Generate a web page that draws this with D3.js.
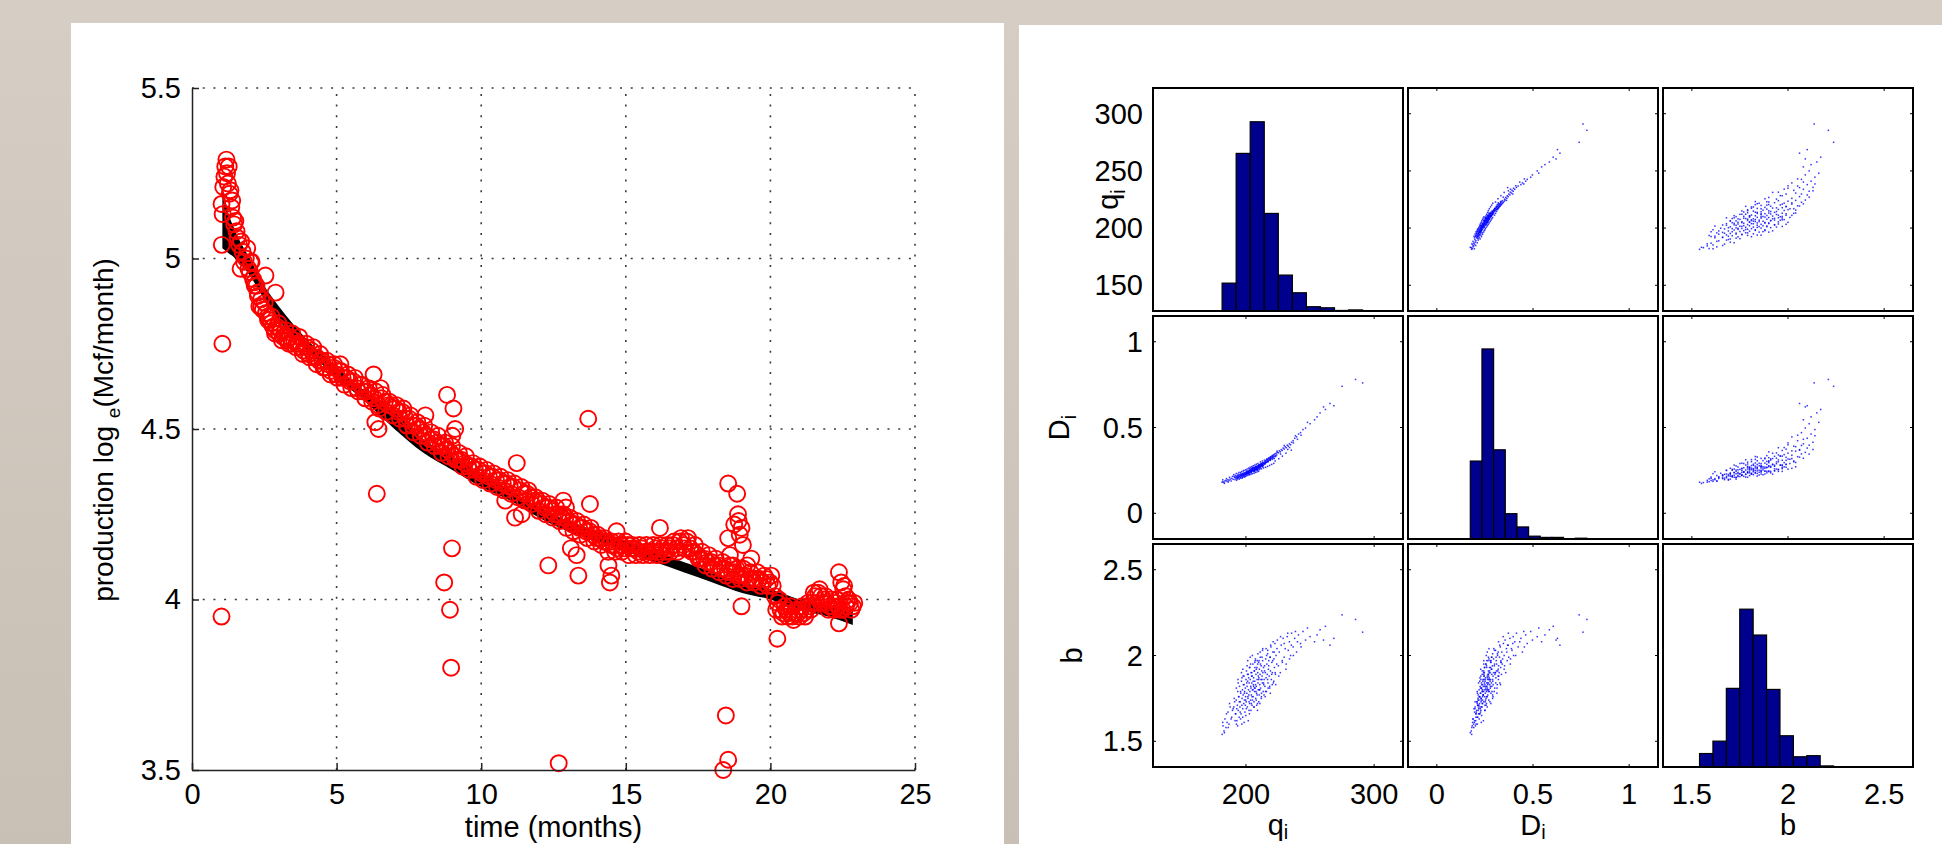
<!DOCTYPE html>
<html>
<head>
<meta charset="utf-8">
<script src="https://cdn.jsdelivr.net/npm/d3@7"></script>
<style>
  html, body { margin: 0; padding: 0; }
  body { width: 1942px; height: 844px; overflow: hidden; background: linear-gradient(#d6cdc4, #c8bfb5); }
  text { font-family: "Liberation Sans", Arial, sans-serif; fill: #000; }
</style>
</head>
<body>
<svg id="chart" width="1942" height="844"></svg>
<script>
// ---------- data ----------

// left plot: observed monthly production (time in months, log_e of Mcf/month)
const observed = [
  [1.02,5.16],[1.03,5.04],[1.05,4.75],[1.02,3.95],[1.06,5.13],[1.08,5.21],[1.12,5.24],[1.15,5.27],[1.19,5.29],[1.21,5.25],
  [1.24,5.22],[1.27,5.27],[1.30,5.19],[1.33,5.20],[1.36,5.15],[1.39,5.17],[1.42,5.12],[1.46,5.10],[1.50,5.11],[1.54,5.08],
  [1.58,5.06],[1.63,5.04],[1.68,4.97],[1.70,5.05],[1.75,5.02],[1.80,4.99],[1.86,5.00],[1.91,5.03],[1.95,4.97],[2.00,4.96],
  [2.06,4.99],[2.11,4.94],[2.17,4.92],[2.23,4.92],[2.28,4.89],[2.33,4.86],[2.39,4.88],[2.45,4.85],[2.54,4.95],[2.56,4.84],
  [2.62,4.83],[2.68,4.82],[2.74,4.81],[2.80,4.80],[2.89,4.90],[2.87,4.79],[2.94,4.80],[3.01,4.78],[3.08,4.79],[3.15,4.77],
  [3.22,4.77],[3.29,4.76],[3.37,4.77],[3.45,4.75],[3.53,4.76],[3.61,4.75],[3.69,4.75],[3.77,4.74],[3.86,4.73],[3.95,4.74],
  [4.04,4.72],[4.13,4.73],[4.22,4.71],[4.31,4.71],[4.40,4.70],[4.50,4.70],[4.60,4.68],[4.70,4.69],[4.80,4.67],[4.90,4.68],
  [5.00,4.66],[5.13,4.69],[5.10,4.67],[5.21,4.65],[5.33,4.65],[5.45,4.64],[5.57,4.64],[5.69,4.62],[5.81,4.63],[5.93,4.61],
  [6.05,4.61],[6.17,4.60],[6.28,4.66],[6.30,4.59],[6.39,4.31],[6.43,4.57],[6.45,4.50],[6.34,4.52],[6.52,4.62],[6.55,4.59],
  [6.67,4.58],[6.79,4.57],[6.91,4.57],[7.03,4.56],[7.15,4.55],[7.27,4.55],[7.39,4.53],[7.51,4.53],[7.63,4.51],[7.75,4.51],
  [7.87,4.50],[7.99,4.49],[8.07,4.54],[8.11,4.48],[8.23,4.47],[8.35,4.47],[8.47,4.46],[8.59,4.45],[8.71,4.45],[8.72,4.05],
  [8.82,4.60],[8.83,4.44],[8.92,3.97],[8.96,3.80],[8.99,4.15],[8.95,4.43],[9.00,4.48],[9.04,4.56],[9.10,4.50],[9.07,4.42],
  [9.19,4.41],[9.31,4.41],[9.43,4.40],[9.55,4.39],[9.67,4.39],[9.79,4.38],[9.91,4.38],[10.03,4.37],[10.15,4.37],[10.27,4.36],
  [10.39,4.36],[10.51,4.35],[10.63,4.35],[10.75,4.34],[10.83,4.29],[10.87,4.34],[10.99,4.33],[11.11,4.33],[11.17,4.24],[11.23,4.40],
  [11.35,4.32],[11.40,4.25],[11.47,4.31],[11.59,4.31],[11.71,4.30],[11.83,4.29],[11.95,4.29],[12.07,4.28],[12.19,4.27],[12.31,4.27],
  [12.32,4.10],[12.43,4.26],[12.55,4.25],[12.67,4.25],[12.68,3.52],[12.79,4.24],[12.84,4.29],[12.91,4.24],[12.93,4.27],[13.03,4.23],
  [13.10,4.15],[13.15,4.22],[13.27,4.22],[13.30,4.13],[13.36,4.07],[13.39,4.21],[13.51,4.21],[13.63,4.20],[13.70,4.53],[13.75,4.20],
  [13.76,4.28],[13.87,4.19],[13.99,4.18],[14.11,4.18],[14.23,4.17],[14.35,4.17],[14.40,4.10],[14.45,4.05],[14.47,4.16],[14.50,4.07],
  [14.59,4.16],[14.68,4.20],[14.71,4.15],[14.83,4.16],[14.95,4.15],[15.07,4.16],[15.19,4.15],[15.31,4.15],[15.43,4.14],[15.55,4.15],
  [15.67,4.14],[15.79,4.14],[15.91,4.14],[16.03,4.15],[16.15,4.14],[16.18,4.21],[16.27,4.15],[16.39,4.14],[16.51,4.15],[16.63,4.16],
  [16.75,4.15],[16.87,4.17],[16.99,4.16],[17.11,4.17],[17.23,4.15],[17.35,4.14],[17.47,4.13],[17.59,4.12],[17.71,4.12],[17.83,4.11],
  [17.95,4.11],[18.07,4.10],[18.19,4.10],[18.31,4.09],[18.37,3.50],[18.43,4.09],[18.46,3.66],[18.54,3.53],[18.54,4.34],[18.54,4.18],
  [18.55,4.08],[18.60,4.13],[18.67,4.08],[18.70,4.10],[18.75,4.22],[18.79,4.08],[18.85,4.31],[18.88,4.25],[18.90,4.23],[18.91,4.07],
  [18.94,4.19],[19.00,4.21],[19.00,3.98],[19.02,4.07],[19.05,4.16],[19.14,4.07],[19.20,4.10],[19.26,4.06],[19.34,4.12],[19.38,4.06],
  [19.50,4.06],[19.62,4.06],[19.74,4.05],[19.86,4.06],[19.98,4.05],[20.08,4.04],[20.15,4.01],[20.24,3.885],[20.25,3.99],[20.35,3.97],
  [20.45,3.96],[20.55,3.97],[20.65,3.96],[20.75,3.95],[20.85,3.96],[20.95,3.96],[21.05,3.97],[21.15,3.96],[21.25,3.97],[21.35,3.98],
  [21.45,3.99],[21.55,4.01],[21.65,4.02],[21.75,4.01],[21.85,4.00],[21.95,3.99],[22.05,3.98],[22.15,3.98],[22.25,3.99],[22.35,3.98],
  [22.37,4.08],[22.37,3.93],[22.45,4.05],[22.50,3.97],[22.52,4.03],[22.55,4.04],[22.60,4.01],[22.65,3.99],[22.75,3.99],[22.85,3.98],
  // in-between days that thicken the band
  [2.03,4.99],[2.15,4.93],[2.27,4.90],[2.39,4.86],[2.51,4.87],[2.63,4.82],[2.75,4.83],[2.87,4.78],[2.99,4.81],[3.11,4.76],
  [3.23,4.79],[3.35,4.75],[3.47,4.78],[3.59,4.74],[3.71,4.77],[3.83,4.72],[3.95,4.75],[4.07,4.71],[4.19,4.74],[4.31,4.69],
  [4.43,4.72],[4.55,4.68],[4.67,4.70],[4.79,4.66],[4.91,4.69],[5.03,4.65],[5.15,4.67],[5.27,4.63],[5.39,4.66],[5.51,4.62],
  [5.63,4.65],[5.75,4.61],[5.87,4.63],[5.99,4.59],[6.11,4.62],[6.23,4.58],[6.35,4.61],[6.47,4.56],[6.59,4.60],[6.71,4.55],
  [6.83,4.58],[6.95,4.54],[7.07,4.57],[7.19,4.53],[7.31,4.56],[7.43,4.51],[7.55,4.54],[7.67,4.49],[7.79,4.52],[7.91,4.48],
  [8.03,4.51],[8.15,4.46],[8.27,4.49],[8.39,4.45],[8.51,4.48],[8.63,4.43],[8.75,4.46],[8.87,4.42],[8.99,4.45],[9.11,4.41],
  [9.23,4.43],[9.35,4.39],[9.47,4.42],[9.59,4.38],[9.71,4.40],[9.83,4.36],[9.95,4.39],[10.07,4.35],[10.19,4.38],[10.31,4.34],
  [10.43,4.37],[10.55,4.33],[10.67,4.36],[10.79,4.32],[10.91,4.35],[11.03,4.31],[11.15,4.34],[11.27,4.30],[11.39,4.33],[11.51,4.29],
  [11.63,4.32],[11.75,4.28],[11.87,4.30],[11.99,4.26],[12.11,4.29],[12.23,4.25],[12.35,4.28],[12.47,4.24],[12.59,4.27],[12.71,4.23],
  [12.83,4.25],[12.95,4.21],[13.07,4.24],[13.19,4.20],[13.31,4.23],[13.43,4.19],[13.55,4.22],[13.67,4.18],[13.79,4.21],[13.91,4.17],
  [14.03,4.19],[14.15,4.16],[14.27,4.18],[14.39,4.14],[14.51,4.17],[14.63,4.14],[14.75,4.17],[14.87,4.14],[14.99,4.17],[15.11,4.13],
  [15.23,4.16],[15.35,4.13],[15.47,4.16],[15.59,4.13],[15.71,4.16],[15.83,4.13],[15.95,4.16],[16.07,4.13],[16.19,4.16],[16.31,4.13],
  [16.43,4.16],[16.55,4.14],[16.67,4.17],[16.79,4.14],[16.91,4.18],[17.03,4.15],[17.15,4.18],[17.27,4.14],[17.39,4.16],[17.51,4.12],
  [17.63,4.14],[17.75,4.10],[17.87,4.13],[17.99,4.09],[18.11,4.12],[18.23,4.08],[18.35,4.11],[18.47,4.07],[18.59,4.10],[18.71,4.06],
  [18.83,4.09],[18.95,4.06],[19.07,4.09],[19.19,4.05],[19.31,4.08],[19.43,4.05],[19.55,4.08],[19.67,4.04],[19.79,4.07],[19.91,4.04],
  [20.03,4.07],[20.20,3.97],[20.30,4.00],[20.40,3.95],[20.50,3.98],[20.60,3.95],[20.70,3.98],[20.80,3.94],[20.90,3.97],[21.00,3.95],
  [21.10,3.98],[21.20,3.95],[21.30,3.99],[21.40,3.97],[21.50,4.02],[21.60,3.99],[21.70,4.03],[21.80,3.99],[21.90,4.01],[22.00,3.97],
  [22.10,4.00],[22.20,3.97],[22.30,4.00],[22.40,3.97],[22.60,3.98],[22.70,4.00],[22.80,3.97],[22.90,3.99]
]

// left plot: envelope of the fitted decline curves (black band)
const fitMonths = [1.05, 1.2, 1.5, 2.0, 2.5, 3, 4, 5, 6, 7, 8, 9, 10, 11, 12, 13, 14, 15, 16, 17, 18, 19, 20, 21, 22, 22.85]
const fitLow    = [5.03, 5.02, 5.00, 4.95, 4.88, 4.82, 4.73, 4.65, 4.58, 4.50, 4.43, 4.38, 4.33, 4.29, 4.24, 4.20, 4.17, 4.14, 4.11, 4.08, 4.05, 4.02, 4.00, 3.97, 3.95, 3.925]
const fitHigh   = [5.21, 5.15, 5.08, 5.00, 4.92, 4.86, 4.76, 4.68, 4.61, 4.55, 4.47, 4.42, 4.37, 4.32, 4.27, 4.23, 4.20, 4.17, 4.14, 4.11, 4.08, 4.05, 4.03, 4.00, 3.98, 3.965]

const timeTicks = [0, 5, 10, 15, 20, 25]
const prodTicks = [3.5, 4, 4.5, 5, 5.5]

// right plot: posterior samples [q_i, D_i, b]
const samples = [
  [181.4,.181,1.54],[182.1,.184,1.59],[182.9,.179,1.56],[183.6,.188,1.63],[184.4,.192,1.58],[185.3,.186,1.61],[186.0,.196,1.67],[186.8,.191,1.60],[187.7,.199,1.70],[188.9,.203,1.64],[190.0,.198,1.69],[191.2,.209,1.73],
  [192.0,.206,1.66],[192.4,.214,1.74],[192.9,.202,1.62],[193.3,.219,1.71],[193.6,.210,1.79],[194.0,.207,1.68],[194.3,.221,1.76],[194.7,.213,1.64],[195.0,.225,1.82],[195.3,.216,1.70],
  [195.6,.209,1.73],[195.9,.228,1.78],[196.2,.218,1.66],[196.5,.223,1.85],[196.8,.212,1.71],[197.0,.231,1.75],[197.3,.220,1.80],[197.5,.226,1.69],[197.8,.215,1.77],[198.0,.234,1.83],
  [198.3,.222,1.72],[198.5,.229,1.88],[198.8,.219,1.74],[199.0,.237,1.79],[199.2,.227,1.67],[199.5,.232,1.81],[199.7,.224,1.76],[200.0,.240,1.86],[200.2,.230,1.73],[200.4,.236,1.91],
  [200.7,.226,1.78],[200.9,.242,1.82],[201.1,.233,1.70],[201.3,.239,1.85],[201.6,.229,1.75],[201.8,.245,1.89],[202.0,.236,1.80],[202.2,.241,1.77],[202.5,.232,1.84],[202.7,.248,1.93],
  [202.9,.238,1.72],[192.6,.211,1.60],[193.9,.217,1.84],[195.8,.220,1.63],[197.6,.228,1.92],[199.9,.233,1.65],[201.4,.244,1.97],[202.4,.229,1.68],[196.9,.224,1.87],[198.6,.231,1.61],
  [203.1,.243,1.79],[203.3,.251,1.86],[203.6,.238,1.74],[203.8,.256,1.82],[204.0,.247,1.90],[204.2,.241,1.77],[204.5,.259,1.84],[204.7,.250,1.71],[204.9,.262,1.88],[205.1,.246,1.80],
  [205.4,.255,1.95],[205.6,.249,1.76],[205.8,.265,1.83],[206.0,.253,1.87],[206.3,.244,1.73],[206.5,.268,1.91],[206.7,.258,1.79],[206.9,.251,1.85],[207.2,.263,1.81],[207.4,.271,1.98],
  [207.6,.256,1.75],[207.8,.266,1.89],[208.1,.260,1.82],[208.3,.252,1.78],[208.5,.274,1.93],[208.7,.264,1.86],[209.0,.258,1.72],[209.2,.277,1.90],[209.4,.269,1.84],[209.6,.261,1.80],
  [209.9,.280,1.96],[210.1,.272,1.87],[210.3,.265,1.77],[210.5,.283,1.92],[210.8,.275,1.83],[211.0,.268,1.89],[211.2,.286,1.99],[211.4,.278,1.81],[211.7,.271,1.86],[211.9,.289,1.94],
  [212.1,.281,1.78],[212.3,.274,1.91],[212.6,.292,1.88],[212.8,.284,1.84],[213.0,.277,1.97],[213.2,.295,1.90],[213.5,.287,1.79],[213.7,.280,1.93],[203.9,.249,1.68],[205.0,.257,2.00],
  [206.2,.262,1.70],[207.0,.248,1.93],[208.0,.270,1.74],[209.1,.255,1.95],[210.0,.276,1.73],[211.1,.262,2.02],[212.0,.290,1.75],[213.1,.271,2.04],[204.4,.245,1.88],[206.6,.254,1.81],
  [208.8,.266,1.97],[210.7,.270,1.80],[212.5,.279,1.86],[213.9,.293,1.83],
  [214.2,.290,1.86],[214.5,.299,1.94],[214.8,.286,1.82],[215.1,.303,1.90],[215.4,.295,1.98],[215.7,.307,1.87],[216.0,.298,1.79],[216.3,.311,1.95],[216.6,.302,1.89],[216.9,.315,2.01],
  [217.2,.306,1.84],[217.5,.319,1.92],[217.8,.309,1.97],[218.1,.322,1.88],[218.5,.313,1.81],[218.8,.326,1.99],[219.1,.317,1.91],[219.5,.330,2.05],[219.8,.320,1.86],[220.2,.334,1.96],
  [220.6,.324,1.90],[221.0,.338,2.02],[221.4,.328,1.84],[221.8,.342,1.98],[222.2,.332,1.93],[222.6,.346,2.07],[223.0,.336,1.89],[223.5,.350,2.00],[224.0,.340,1.95],[224.5,.355,2.09],
  [215.0,.292,1.76],[217.0,.300,2.03],[219.0,.312,1.78],[221.2,.321,2.08],[223.2,.331,1.83],
  [225.3,.352,1.94],[226.0,.364,2.02],[226.8,.358,1.90],[227.5,.371,2.06],[228.3,.366,1.97],[229.0,.380,2.10],[229.8,.374,1.99],[230.6,.388,2.04],[231.4,.382,1.95],[232.2,.397,2.11],
  [233.0,.391,2.03],[233.9,.405,2.08],[234.8,.399,2.00],[235.6,.414,2.13],
  [236.8,.423,2.05],[238.0,.437,2.10],[239.5,.445,2.02],[241.0,.462,2.12],[242.6,.470,2.07],[244.5,.488,2.14],[246.5,.497,2.09],
  [250.0,.522,2.11],[253.5,.545,2.08],[257.8,.585,2.15],[262.0,.605,2.17],[268.6,.627,2.10],[265.5,.640,2.06],
  [275.0,.740,2.237],[285.5,.780,2.21],[291.0,.760,2.136],
  // wider spread around the core
  [190.5,.225,1.70],[191.5,.196,1.62],[192.5,.232,1.81],[193.5,.201,1.59],[194.5,.238,1.76],[195.5,.205,1.67],[196.5,.243,1.90],[197.5,.209,1.64],[198.5,.250,1.83],[199.5,.214,1.71],
  [190.8,.214,1.75],[191.8,.221,1.66],[192.8,.193,1.69],[193.8,.229,1.86],[194.8,.199,1.73],[195.8,.236,1.79],[196.8,.204,1.60],[197.8,.246,1.88],[198.8,.211,1.78],[199.8,.253,1.74],
  [200.3,.218,1.69],[200.9,.258,1.94],[201.5,.221,1.76],[202.1,.263,1.87],[202.7,.224,1.66],[203.3,.268,1.99],[203.9,.227,1.81],[204.5,.272,1.90],[205.1,.231,1.74],[205.7,.277,1.85],
  [206.3,.234,1.70],[206.9,.281,1.96],[207.5,.238,1.83],[208.1,.286,1.92],[208.7,.241,1.77],[209.3,.290,2.01],[209.9,.245,1.86],[200.6,.247,1.84],[201.8,.242,1.62],[203.0,.259,1.93],
  [204.2,.236,1.72],[205.4,.266,1.80],[206.6,.244,1.91],[207.8,.273,1.79],[209.0,.251,1.68],[210.2,.282,1.97],[201.2,.236,1.89],[202.4,.252,1.73],[203.6,.244,1.95],[204.8,.262,1.76],
  [206.0,.249,1.82],[207.2,.260,1.97],[208.4,.256,1.71],[209.6,.269,1.88],
  [210.5,.255,1.80],[211.3,.300,1.95],[212.1,.259,1.76],[212.9,.305,2.03],[213.7,.264,1.84],[214.5,.310,1.91],[215.3,.268,1.79],[216.1,.316,2.00],[216.9,.273,1.86],[217.7,.321,1.94],
  [218.5,.279,1.82],[219.3,.327,2.06],[220.1,.285,1.89],[220.9,.333,1.97],[221.7,.291,1.85],[210.9,.281,1.72],[212.5,.284,1.99],[214.1,.290,1.77],[215.7,.296,2.04],[217.3,.301,1.81],
  [218.9,.308,1.99],[220.5,.314,1.83],[222.1,.319,2.02],
  [222.8,.305,1.90],[224.2,.362,2.04],[225.6,.318,1.88],[227.0,.345,2.11],[228.4,.333,1.96],[229.8,.395,2.07],[231.2,.350,1.92],[232.6,.372,2.13],[234.0,.383,1.98],[235.4,.368,2.06],
  [237.0,.410,2.00],[238.6,.452,2.14],[240.2,.431,2.08],[243.0,.455,2.05],[248.0,.530,2.16],[255.5,.562,2.12],[260.5,.620,2.09],
  [181.9,.195,1.61],[183.2,.174,1.55],[184.8,.202,1.66],[186.2,.182,1.58],[187.2,.210,1.72],[188.4,.188,1.63],[189.5,.215,1.68]
]

// histogram bar counts (10 bins each, per 1000 draws) and top of the hidden count axis
const qiCounts = [52, 294, 353, 182, 67, 34, 8, 6, 1, 2]
const diCounts = [194, 473, 222, 63, 30, 7, 4, 4, 0, 2]
const bCounts  = [25, 48, 146, 293, 245, 144, 58, 19, 21, 2]
const histTops = [416, 555, 414]

// axis limits and ticks of the scatter matrix
const qiLimits = [127.5, 322.5], diLimits = [-0.15, 1.15], bLimits = [1.35, 2.65]
const qiTicksX = [200, 300], qiTicksY = [150, 200, 250, 300]
const diTicks = [0, 0.5, 1]
const bTicks = [1.5, 2, 2.5]

// ---------- drawing ----------
const W = 1942, H = 844
const FONT = 29
const svg = d3.select('#chart')

// white panels on the beige slide
svg.append('rect').attr('x', 71).attr('y', 23).attr('width', 933).attr('height', H - 23).attr('fill', '#fff')
svg.append('rect').attr('x', 1019).attr('y', 25).attr('width', W - 1019).attr('height', H - 25).attr('fill', '#fff')

// ---------- left: production decline ----------
const plot = { left: 192, right: 915, top: 88, bottom: 770 }
const x = d3.scaleLinear().domain([0, 25]).range([plot.left, plot.right])
const y = d3.scaleLinear().domain([3.5, 5.5]).range([plot.bottom, plot.top])

const leftG = svg.append('g')

// dotted grid
leftG.selectAll('.vgrid').data(timeTicks.slice(1)).enter().append('line')
  .attr('x1', d => x(d)).attr('x2', d => x(d))
  .attr('y1', plot.bottom).attr('y2', plot.top)
  .attr('stroke', '#3a3a3a').attr('stroke-width', 1.6).attr('stroke-dasharray', '2,8.7')
leftG.selectAll('.hgrid').data(prodTicks.slice(1)).enter().append('line')
  .attr('x1', plot.left).attr('x2', plot.right)
  .attr('y1', d => y(d)).attr('y2', d => y(d))
  .attr('stroke', '#3a3a3a').attr('stroke-width', 1.6).attr('stroke-dasharray', '2,8.7')

// black band of fitted curves
const band = d3.area()
  .x((d, i) => x(fitMonths[i]))
  .y0((d, i) => y(fitLow[i]))
  .y1((d, i) => y(fitHigh[i]))
  .curve(d3.curveMonotoneX)
leftG.append('path').datum(fitMonths).attr('d', band).attr('fill', '#000')

// observed data as open red circles
leftG.selectAll('.obs').data(observed).enter().append('circle')
  .attr('cx', d => x(d[0])).attr('cy', d => y(d[1])).attr('r', 8)
  .attr('fill', 'none').attr('stroke', '#ff0000').attr('stroke-width', 1.9)

// axes with inward ticks
const yAxis = leftG.append('g').attr('transform', `translate(${plot.left},0)`)
  .call(d3.axisLeft(y).tickValues(prodTicks).tickFormat(d3.format('')).tickSizeInner(-7).tickSizeOuter(0).tickPadding(11))
const xAxis = leftG.append('g').attr('transform', `translate(0,${plot.bottom})`)
  .call(d3.axisBottom(x).tickValues(timeTicks).tickSizeInner(-7).tickSizeOuter(0).tickPadding(13))
;[xAxis, yAxis].forEach(a => {
  a.attr('font-size', FONT).attr('font-family', '"Liberation Sans", Arial, sans-serif')
  a.selectAll('path, line').attr('stroke', '#222').attr('stroke-width', 1.5)
  a.selectAll('text').attr('fill', '#000')
})

leftG.append('text').attr('x', (plot.left + plot.right) / 2).attr('y', 837)
  .attr('text-anchor', 'middle').attr('font-size', FONT).text('time (months)')

const yl = leftG.append('text').attr('transform', 'translate(113,430) rotate(-90)')
  .attr('text-anchor', 'middle').attr('font-size', 28)
yl.append('tspan').text('production log ')
yl.append('tspan').attr('font-size', 19).attr('dy', 7).text('e')
yl.append('tspan').attr('dy', -7).text('(Mcf/month)')

// ---------- right: scatter-plot matrix of the posterior ----------
const cell = { left: 1153, top: 88, w: 250, h: 223, gap: 5 }
const limits = [qiLimits, diLimits, bLimits]
const counts = [qiCounts, diCounts, bCounts]
const ticksX = [qiTicksX, diTicks, bTicks]
const ticksY = [qiTicksY, diTicks, bTicks]
const names = [['q', 'i'], ['D', 'i'], ['b', '']]

const colX = i => cell.left + i * (cell.w + cell.gap)
const rowY = i => cell.top + i * (cell.h + cell.gap)
const xs = limits.map((lim, c) => d3.scaleLinear().domain(lim).range([colX(c), colX(c) + cell.w]))
const ys = limits.map((lim, r) => d3.scaleLinear().domain(lim).range([rowY(r) + cell.h, rowY(r)]))

const matG = svg.append('g')

for (let r = 0; r < 3; r++) {
  for (let c = 0; c < 3; c++) {
    const g = matG.append('g')
    const x0 = colX(c), y0 = rowY(r)

    if (r == c) {
      // histogram on the diagonal, bins span the sample range
      const ext = d3.extent(samples, s => s[c])
      const step = (ext[1] - ext[0]) / counts[c].length
      const hy = d3.scaleLinear().domain([0, histTops[c]]).range([y0 + cell.h, y0])
      g.selectAll('rect').data(counts[c]).enter().append('rect')
        .attr('x', (d, i) => xs[c](ext[0] + i * step))
        .attr('width', xs[c](ext[0] + step) - xs[c](ext[0]))
        .attr('y', d => hy(d))
        .attr('height', d => hy(0) - hy(d))
        .attr('fill', '#00008f').attr('stroke', '#000').attr('stroke-width', 1.2)
    } else {
      // scatter of column variable vs row variable
      g.selectAll('rect').data(samples).enter().append('rect')
        .attr('x', s => xs[c](s[c]) - 0.75).attr('y', s => ys[r](s[r]) - 0.75)
        .attr('width', 1.5).attr('height', 1.5)
        .attr('fill', '#0000ff').attr('opacity', 0.8)

      // small inward ticks on all four sides
      ticksX[c].forEach(t => {
        g.append('line').attr('x1', xs[c](t)).attr('x2', xs[c](t)).attr('y1', y0).attr('y2', y0 + 3).attr('stroke', '#000')
        g.append('line').attr('x1', xs[c](t)).attr('x2', xs[c](t)).attr('y1', y0 + cell.h).attr('y2', y0 + cell.h - 3).attr('stroke', '#000')
      })
      ticksY[r].forEach(t => {
        g.append('line').attr('x1', x0).attr('x2', x0 + 3).attr('y1', ys[r](t)).attr('y2', ys[r](t)).attr('stroke', '#000')
        g.append('line').attr('x1', x0 + cell.w).attr('x2', x0 + cell.w - 3).attr('y1', ys[r](t)).attr('y2', ys[r](t)).attr('stroke', '#000')
      })
    }

    g.append('rect').attr('x', x0).attr('y', y0).attr('width', cell.w).attr('height', cell.h)
      .attr('fill', 'none').attr('stroke', '#000').attr('stroke-width', 2)
  }
}

// tick labels on the left column and bottom row
for (let r = 0; r < 3; r++) {
  matG.selectAll(null).data(ticksY[r]).enter().append('text')
    .attr('x', cell.left - 10).attr('y', d => ys[r](d)).attr('dy', '0.35em')
    .attr('text-anchor', 'end').attr('font-size', FONT).text(d => d)
}
for (let c = 0; c < 3; c++) {
  matG.selectAll(null).data(ticksX[c]).enter().append('text')
    .attr('x', d => xs[c](d)).attr('y', 804)
    .attr('text-anchor', 'middle').attr('font-size', FONT).text(d => d)
}

// variable names: rotated on the left, plain under the bottom row
function varLabel(sel, n, drop) {
  sel.append('tspan').text(n[0])
  if (n[1]) sel.append('tspan').attr('font-size', 20).attr('dy', drop).text(n[1])
}
const yLabelX = [1118, 1069, 1082]
names.forEach((n, i) => {
  const t = matG.append('text').attr('font-size', FONT).attr('text-anchor', 'middle')
    .attr('transform', `translate(${yLabelX[i]},${rowY(i) + cell.h / 2}) rotate(-90)`)
  varLabel(t, n, 7)
  const b = matG.append('text').attr('font-size', FONT).attr('text-anchor', 'middle')
    .attr('x', colX(i) + cell.w / 2).attr('y', 835)
  varLabel(b, n, 4)
})
</script>
</body>
</html>
